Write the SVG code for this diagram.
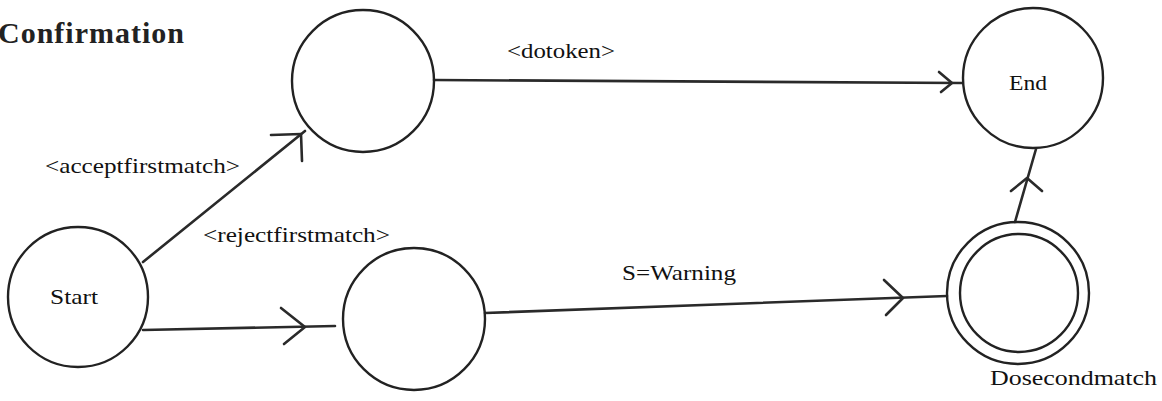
<svg xmlns="http://www.w3.org/2000/svg" width="1162" height="401" viewBox="0 0 1162 401">
  <style>
    .state { fill: none; stroke: #222; stroke-width: 2.4; }
    .edge { fill: none; stroke: #2a2a2a; stroke-width: 2.6; stroke-linecap: round; stroke-linejoin: round; }
    .lbl { font-family: 'Liberation Serif', 'DejaVu Serif', 'Times New Roman', serif; font-size: 22px; fill: #111; }
    .title { font-family: 'Liberation Serif', 'DejaVu Serif', 'Times New Roman', serif; font-size: 30px; font-weight: bold; fill: #222; letter-spacing: 1px; }
  </style>
  <rect width="1162" height="401" fill="#fff"/>

  <text class="title" x="-2" y="43" font-family="Liberation Serif, serif">Confirmation</text>

  <!-- transitions -->
  <g id="connectors">
    <!-- top state to End -->
    <line class="edge" x1="434" y1="80" x2="962" y2="83"/>
    <polyline class="edge" points="939,72 952,83 941,92"/>
    <text class="lbl" x="507" y="58" textLength="108" lengthAdjust="spacingAndGlyphs">&lt;dotoken&gt;</text>

    <!-- Start to top state -->
    <line class="edge" x1="143" y1="262" x2="305" y2="131"/>
    <polyline class="edge" points="271,135 301,134 302,161"/>
    <text class="lbl" x="45" y="173" textLength="195" lengthAdjust="spacingAndGlyphs">&lt;acceptfirstmatch&gt;</text>

    <!-- Start to lower state -->
    <line class="edge" x1="143" y1="330" x2="335" y2="326"/>
    <polyline class="edge" points="281,308 305,327 284,344"/>
    <text class="lbl" x="203" y="242" textLength="187" lengthAdjust="spacingAndGlyphs">&lt;rejectfirstmatch&gt;</text>

    <!-- lower state to Dosecondmatch -->
    <line class="edge" x1="485" y1="313" x2="947" y2="296"/>
    <polyline class="edge" points="884,280 903,298 886,315"/>
    <text class="lbl" x="622" y="280" textLength="114" lengthAdjust="spacingAndGlyphs">S=Warning</text>

    <!-- Dosecondmatch to End -->
    <line class="edge" x1="1015" y1="222" x2="1036" y2="149"/>
    <polyline class="edge" points="1011,191 1027,178 1042,191"/>
  </g>

  <g id="start">
    <circle class="state" cx="78" cy="297" r="70"/>
    <text class="lbl" x="50" y="304" textLength="48" lengthAdjust="spacingAndGlyphs">Start</text>
  </g>

  <g id="accepted">
    <circle class="state" cx="363" cy="81" r="71"/>
  </g>

  <g id="rejected">
    <circle class="state" cx="414" cy="319" r="71"/>
  </g>

  <g id="end">
    <circle class="state" cx="1033" cy="78" r="70"/>
    <text class="lbl" x="1009" y="90" textLength="38" lengthAdjust="spacingAndGlyphs">End</text>
  </g>

  <g id="dosecondmatch">
    <circle class="state" cx="1018" cy="293" r="71"/>
    <circle class="state" cx="1019" cy="293" r="59"/>
    <text class="lbl" x="990" y="385" textLength="167" lengthAdjust="spacingAndGlyphs">Dosecondmatch</text>
  </g>
</svg>
